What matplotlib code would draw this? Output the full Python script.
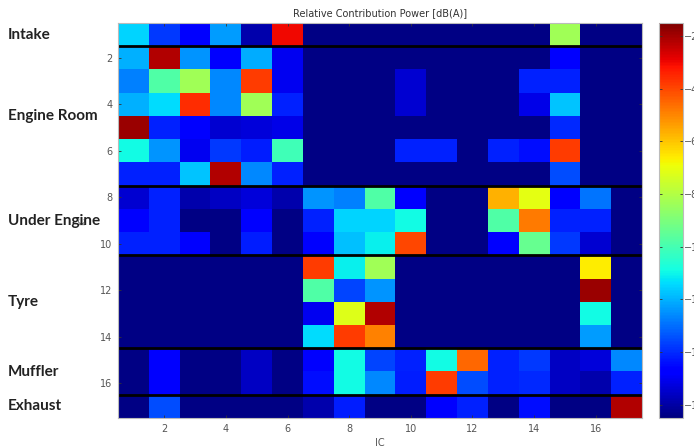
import numpy as np
import matplotlib
matplotlib.use("Agg")
import matplotlib.pyplot as plt
from matplotlib import transforms

# relative contribution power [dB(A)], rows = path (1..17), cols = IC (1..17)
N = -16.4  # floor level (no contribution)
rows_intake = [
    [-11.5, -13.8, -14.7, -12.3, -15.9, -3.0, N, N, N, N, N, N, N, N, -8.3, N, N],
]
rows_engine_room = [
    [-12.0, -2.2, -12.4, -14.6, -12.1, -15.0, N, N, N, N, N, N, N, N, -14.7, N, N],
    [-12.7, -9.8, -8.3, -12.6, -3.8, -15.0, N, N, N, -15.4, N, N, N, -14.1, -14.1, N, N],
    [-12.0, -11.4, -3.6, -12.6, -8.3, -14.1, N, N, N, -15.4, N, N, N, -15.1, -11.7, N, N],
    [-1.9, -14.1, -14.7, -15.4, -15.3, -15.1, N, N, N, N, N, N, N, N, -14.0, N, N],
    [-10.9, -12.4, -15.0, -13.8, -14.2, -10.1, N, N, N, -14.1, -14.1, N, -14.1, -14.4, -3.8, N, N],
    [-14.1, -14.1, -11.7, -2.2, -12.6, -14.1, N, N, N, N, N, N, N, N, -13.5, N, N],
]
rows_under_engine = [
    [-15.4, -14.1, -15.9, -15.6, -15.3, -15.9, -12.4, -12.7, -9.8, -14.8, N, N, -5.7, -7.1, -14.8, -12.9, N],
    [-14.7, -14.1, N, N, -14.7, N, -14.1, -11.5, -11.5, -10.9, N, N, -9.8, -4.8, -14.1, -14.1, N],
    [-14.1, -14.1, -14.8, N, -14.2, N, -14.8, -11.8, -11.1, -4.0, N, N, -14.8, -9.4, -13.8, -15.4, N],
]
rows_tyre = [
    [N, N, N, N, N, N, -3.8, -11.1, -8.3, N, N, N, N, N, N, -6.6, N],
    [N, N, N, N, N, N, -9.8, -13.6, -12.4, N, N, N, N, N, N, -1.9, N],
    [N, N, N, N, N, N, -15.0, -7.2, -2.2, N, N, N, N, N, N, -10.9, N],
    [N, N, N, N, N, N, -11.4, -3.8, -4.9, N, N, N, N, N, N, -12.3, N],
]
rows_muffler = [
    [N, -14.7, N, N, -15.6, N, -14.8, -10.9, -13.6, -14.1, -10.9, -4.5, -14.1, -13.8, -15.6, -15.3, -12.6],
    [N, -14.8, N, N, -15.6, N, -14.4, -10.9, -12.6, -14.2, -3.8, -13.5, -14.1, -14.0, -15.6, -15.9, -14.1],
]
rows_exhaust = [
    [N, -13.5, N, N, N, N, -15.9, -14.2, N, N, -14.7, -14.1, N, -14.4, N, N, -2.2],
]

groups = ["Intake", "Engine Room", "Under Engine", "Tyre", "Muffler", "Exhaust"]
group_rows = [rows_intake, rows_engine_room, rows_under_engine, rows_tyre, rows_muffler, rows_exhaust]

data = np.array([r for g in group_rows for r in g])
n_rows, n_cols = data.shape

fig = plt.figure(figsize=(6.94, 4.48), dpi=100)
ax = fig.add_axes([118 / 694, 30 / 448, 524 / 694, 395 / 448])
cax = fig.add_axes([659 / 694, 30 / 448, 24 / 694, 395 / 448])

im = ax.imshow(data, cmap="jet", vmin=-16.5, vmax=-1.5, aspect="auto",
               interpolation="nearest",
               extent=[0.5, n_cols + 0.5, n_rows + 0.5, 0.5])

# group separators and labels
tr = transforms.blended_transform_factory(fig.transFigure, ax.transData)
start = 0
for name, g in zip(groups, group_rows):
    end = start + len(g)
    if end < n_rows:
        ax.axhline(end + 0.5, color="black", lw=2)
    ax.text(8 / 694, (start + 1 + end) / 2, name, transform=tr, ha="left", va="center",
            fontsize=11, fontweight="bold", family="Lato", color="#222222")
    start = end

ax.set_xticks(np.arange(2, 17, 2))
ax.set_yticks(np.arange(2, 17, 2))
ax.set_xlim(0.5, n_cols + 0.5)
ax.set_ylim(n_rows + 0.5, 0.5)
ax.tick_params(direction="in", length=2, width=0.6, top=True, right=True,
               labelsize=7, labelcolor="#555555", color="#333333", pad=4)
for s in ax.spines.values():
    s.set_color("#bbbbbb")
    s.set_linewidth(0.8)

ax.set_title("Relative Contribution Power [dB(A)]", fontsize=7, color="#333333", pad=5)
ax.set_xlabel("IC", fontsize=7, color="#555555", labelpad=3)
ax.set_ylabel("IC", fontsize=6, color="#555555")
ax.yaxis.set_label_coords(-0.058, 0.5)

cb = fig.colorbar(im, cax=cax)
cb.set_ticks(np.arange(-16, -1, 2))
cb.ax.tick_params(direction="in", length=2, width=0.6, left=True, right=True,
                  labelsize=7, labelcolor="#555555", color="#333333", pad=1)
cb.outline.set_edgecolor("#bbbbbb")
cb.outline.set_linewidth(0.8)

fig.savefig("out.png", dpi=100)
